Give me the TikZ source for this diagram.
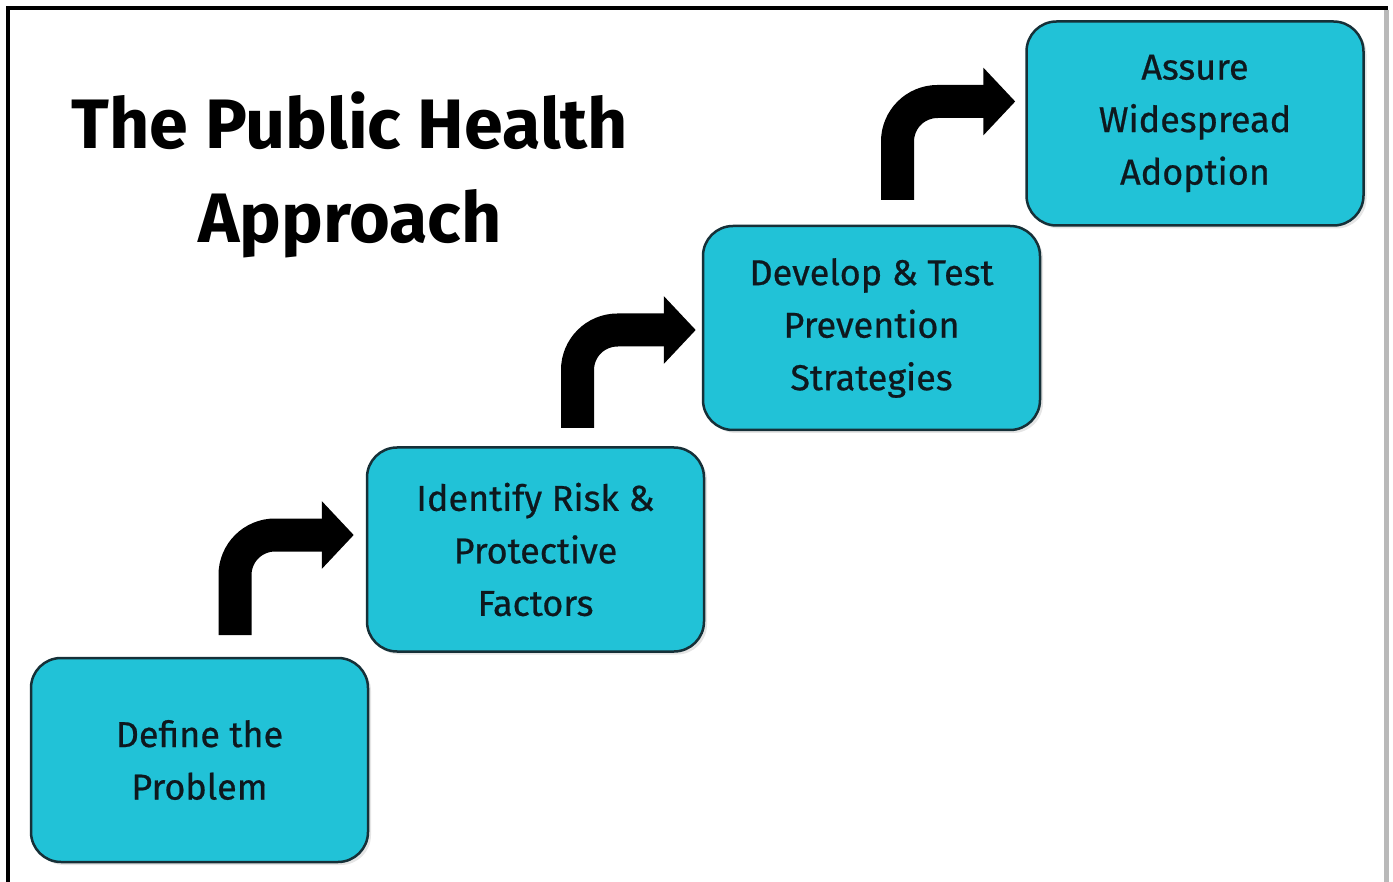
\documentclass[tikz,border=0pt]{standalone}
\usepackage{fontspec}
\setmainfont{Fira Sans}
\newfontfamily\boxfont[FakeBold=0.6]{Fira Sans}
\usetikzlibrary{arrows.meta,shadows,calc}
\definecolor{boxfill}{RGB}{33,194,215}
\definecolor{boxline}{RGB}{22,48,56}
\definecolor{boxtext}{RGB}{14,24,30}
\begin{document}
\begin{tikzpicture}[x=1pt,y=-1pt,
  stepbox/.style={draw=boxline, line width=2.5pt, fill=boxfill, rounded corners=30pt,
    minimum width=337pt, minimum height=204pt, align=center, text=boxtext,
    font=\boxfont\fontsize{36}{52.5}\selectfont, inner sep=0pt,
    drop shadow={shadow xshift=3pt,shadow yshift=-3pt,opacity=0.2}},
  turn/.style={line width=33pt, rounded corners=40pt, -{Triangle[length=32pt,width=66pt]}},
  titletext/.style={font=\bfseries\fontsize{70}{94}\selectfont, align=center, text=black}
]
\useasboundingbox (0,0) rectangle (1393,882);
\fill[white] (0,0) rectangle (1393,882);
\draw[line width=4pt] (7.5,882) -- (7.5,8) -- (1388,8);
\draw[gray!55, line width=5pt] (1386,10) -- (1386,882);

\node[titletext] (title) at (350,175) {The Public Health\\Approach};

\node[stepbox] (b1) at (199.5,760) {Define the\\Problem};
\node[stepbox] (b2) at (535.5,549.5) {Identify Risk \&\\Protective\\Factors};
\node[stepbox] (b3) at (871.5,328) {Develop \& Test\\Prevention\\Strategies};
\node[stepbox] (b4) at (1195,123.5) {Assure\\Widespread\\Adoption};

\coordinate (a1s) at (235,635);
\coordinate (a2s) at (577.5,428);
\coordinate (a3s) at (897.5,200);
\draw[turn] (a1s) |- ([xshift=-12pt,yshift=14.5pt]b2.west);
\draw[turn] (a2s) |- ([xshift=-6pt,yshift=-2pt]b3.west);
\draw[turn] (a3s) |- ([xshift=-10pt,yshift=22pt]b4.west);
\end{tikzpicture}
\end{document}
